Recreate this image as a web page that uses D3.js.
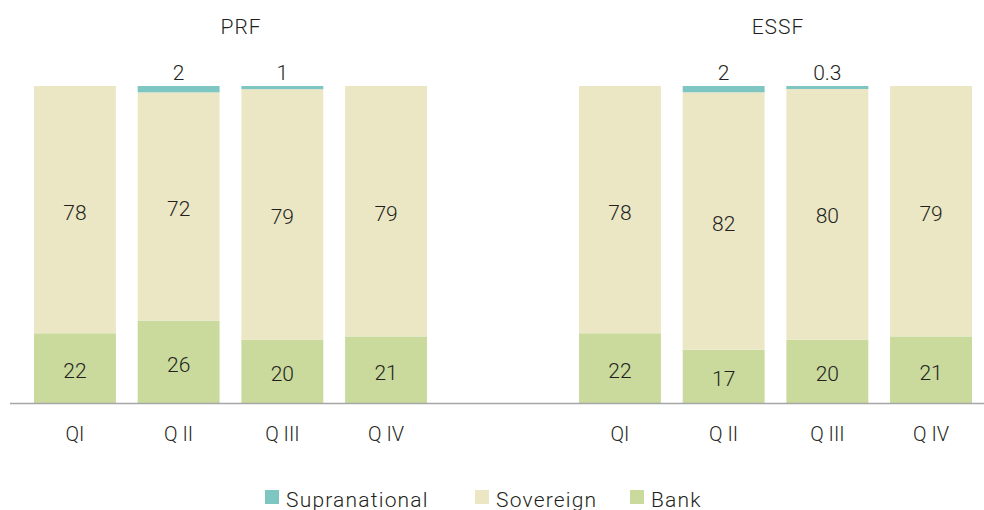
<!DOCTYPE html>
<html>
<head>
<meta charset="utf-8">
<script src="https://cdn.jsdelivr.net/npm/d3@7"></script>
<style>
  body { margin: 0; background: #fff; }
  text { font-family: Roboto, "DejaVu Sans", sans-serif; font-weight: 300; fill: #231f20; }
</style>
</head>
<body>
<div id="chart"></div>
<script>
// data
var funds = ['PRF', 'ESSF'];
var quarters = ['QI', 'Q II', 'Q III', 'Q IV'];
var seriesNames = ['Bank', 'Sovereign', 'Supranational'];
var bank = { PRF: [22, 26, 20, 21], ESSF: [22, 17, 20, 21] };
var sovereign = { PRF: [78, 72, 79, 79], ESSF: [78, 82, 80, 79] };
var supranational = { PRF: [0, 2, 1, 0], ESSF: [0, 2, 0.3, 0] };

var colors = { Bank: '#c9da9c', Sovereign: '#ebe7c5', Supranational: '#7dc6c2' };

var width = 984, height = 510;
var baseY = 403, topY = 86;

var svg = d3.select('#chart')
  .append('svg')
  .attr('width', width)
  .attr('height', height);

// y scale: share of each bar (stack expanded to 100%)
var y = d3.scaleLinear().domain([0, 1]).range([baseY, topY]);

// one band scale per fund
var groupRange = { PRF: [34, 427], ESSF: [579, 972] };
var titleX = { PRF: 241, ESSF: 778 };

funds.forEach(function (fund) {
  var x = d3.scaleBand()
    .domain(quarters)
    .range(groupRange[fund])
    .paddingInner(0.21)
    .paddingOuter(0);

  var rows = quarters.map(function (q, i) {
    return {
      quarter: q,
      Bank: bank[fund][i],
      Sovereign: sovereign[fund][i],
      Supranational: supranational[fund][i]
    };
  });

  var stacked = d3.stack()
    .keys(seriesNames)
    .offset(d3.stackOffsetExpand)(rows);

  var g = svg.append('g').attr('class', 'fund-' + fund);

  g.selectAll('.layer')
    .data(stacked)
    .enter()
    .append('g')
    .attr('class', 'layer')
    .attr('fill', function (d) { return colors[d.key]; })
    .selectAll('rect')
    .data(function (d) { return d; })
    .enter()
    .append('rect')
    .attr('x', function (d) { return x(d.data.quarter); })
    .attr('y', function (d) { return y(d[1]); })
    .attr('width', x.bandwidth())
    // thin slices get at least a visible sliver, as in the original
    .attr('height', function (d) {
      var h = y(d[0]) - y(d[1]);
      return h > 0 ? Math.max(h, 3) : 0;
    });

  // value labels
  stacked.forEach(function (layer) {
    layer.forEach(function (d) {
      var v = d.data[layer.key];
      if (!v) return;
      var cx = x(d.data.quarter) + x.bandwidth() / 2;
      var ly = layer.key === 'Supranational'
        ? y(d[1]) - 6
        : (y(d[0]) + y(d[1])) / 2 + 10;
      g.append('text')
        .attr('x', cx)
        .attr('y', ly)
        .attr('text-anchor', 'middle')
        .style('font-size', '21px')
        .text(v);
    });
  });

  // quarter labels
  var axis = d3.axisBottom(x).tickSize(0).tickPadding(0);
  var ax = g.append('g')
    .attr('transform', 'translate(0,' + baseY + ')')
    .call(axis);
  ax.select('.domain').remove();
  ax.selectAll('text')
    .attr('y', 38)
    .attr('dy', 0)
    .style('font-size', '20px')
    .style('font-family', 'Roboto, sans-serif')
    .style('font-weight', 300)
    .attr('fill', '#231f20');

  // fund title
  g.append('text')
    .attr('x', titleX[fund])
    .attr('y', 34)
    .attr('text-anchor', 'middle')
    .style('font-size', '21px')
    .style('letter-spacing', '1px')
    .text(fund);
});

// baseline
svg.append('line')
  .attr('x1', 10).attr('x2', 984)
  .attr('y1', baseY + 0.5).attr('y2', baseY + 0.5)
  .attr('stroke', '#a6a6a6')
  .attr('stroke-width', 1.5);

// legend
var legendItems = [
  { name: 'Supranational', x: 265 },
  { name: 'Sovereign', x: 475 },
  { name: 'Bank', x: 630 }
];
var legend = svg.append('g').attr('class', 'legend');
legendItems.forEach(function (item) {
  legend.append('rect')
    .attr('x', item.x).attr('y', 490)
    .attr('width', 14).attr('height', 14)
    .attr('fill', colors[item.name]);
  legend.append('text')
    .attr('x', item.x + 21)
    .attr('y', 507)
    .style('font-size', '21px')
    .style('letter-spacing', '1.2px')
    .text(item.name);
});
</script>
</body>
</html>
